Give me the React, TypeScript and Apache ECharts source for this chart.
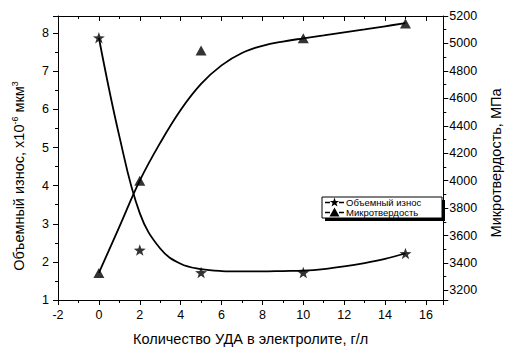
import React, { useEffect, useRef } from "react";
import * as echarts from "echarts";

// measured points
const measuredX = [0, 2, 5, 10, 15];
const wearValues = [7.88, 2.31, 1.72, 1.72, 2.22];
const hardnessValues = [3327, 4000, 4948, 5037, 5145];

// fitted curves at whole-number x
const curveX = [0, 1, 2, 3, 4, 5, 6, 7, 8, 9, 10, 11, 12, 13, 14, 15];
const wearCurveY = [7.88, 5.3, 3.28, 2.35, 1.95, 1.81, 1.76, 1.75, 1.75, 1.76, 1.77, 1.81, 1.88, 1.97, 2.08, 2.22];
const hardCurveY = [3327, 3663, 4000, 4275, 4515, 4705, 4840, 4930, 4982, 5014, 5037, 5058, 5080, 5102, 5125, 5148];

const seriesNames = ["Объемный износ", "Микротвердость"];
const xAxisTitle = "Количество УДА в электролите, г/л";
const leftAxisTitle = "Объемный износ, х10{sup|-6} мкм{sup|3}";
const rightAxisTitle = "Микротвердость, МПа";

const FONT = "Liberation Sans, Arial, sans-serif";
const STAR =
  "path://M0,-10L2.35,-3.24L9.51,-3.09L3.8,1.24L5.88,8.09L0,4L-5.88,8.09L-3.8,1.24L-9.51,-3.09L-2.35,-3.24Z";

function starPoints(cx: number, cy: number, r: number) {
  const pts: number[][] = [];
  for (let i = 0; i < 10; i++) {
    const a = -Math.PI / 2 + (i * Math.PI) / 5;
    const rr = i % 2 === 0 ? r : r * 0.4;
    pts.push([cx + rr * Math.cos(a), cy + rr * Math.sin(a)]);
  }
  return pts;
}

export default function App() {
  const ref = useRef<HTMLDivElement>(null);
  useEffect(() => {
    document.body.style.margin = "0";
    if (!ref.current) return;
    const chart = echarts.init(ref.current, undefined, { renderer: "svg" });
    const black = "#000";
    const axisCommon = {
      axisLine: { show: true, onZero: false, lineStyle: { color: black, width: 1 } },
      splitLine: { show: false },
      minorSplitLine: { show: false },
    };
    const lx = 322, ly = 197, lw = 120, lh = 21;
    const rows = [ly + 5.5, ly + 15.5];
    const legendGraphics: any[] = [
      { type: "rect", shape: { x: lx + 3, y: ly + 3, width: lw, height: lh }, style: { fill: black } },
      { type: "rect", shape: { x: lx, y: ly, width: lw, height: lh }, style: { fill: "#fff", stroke: black, lineWidth: 1 } },
    ];
    seriesNames.forEach((n, i) => {
      const y = rows[i];
      legendGraphics.push(
        { type: "line", shape: { x1: lx + 3, y1: y, x2: lx + 8, y2: y }, style: { stroke: black, lineWidth: 1.5 } },
        { type: "line", shape: { x1: lx + 17, y1: y, x2: lx + 22, y2: y }, style: { stroke: black, lineWidth: 1.5 } },
        i === 0
          ? { type: "polygon", shape: { points: starPoints(lx + 12.5, y, 5) }, style: { fill: black } }
          : { type: "polygon", shape: { points: [[lx + 12.5, y - 5], [lx + 17.5, y + 4], [lx + 7.5, y + 4]] }, style: { fill: black } },
        { type: "text", x: lx + 24, y, style: { text: n, fill: black, font: `9.5px ${FONT}`, verticalAlign: "middle" } }
      );
    });

    const tickFont = 12.5;
    const titleFont = 14.5;

    chart.setOption({
      animation: false,
      grid: { left: 58, right: 59, top: 16, bottom: 48 },
      xAxis: [
        {
          type: "value", position: "bottom", min: -2, max: 16.85, interval: 2,
          ...axisCommon,
          axisTick: { show: true, inside: false, length: 5, lineStyle: { color: black } },
          minorTick: { show: true, splitNumber: 2, length: 3, lineStyle: { color: black } },
          axisLabel: { color: black, fontSize: tickFont, fontFamily: FONT, margin: 8, showMaxLabel: false, formatter: (v: number) => String(v) },
          name: xAxisTitle, nameLocation: "middle", nameGap: 31,
          nameTextStyle: { color: black, fontSize: titleFont, fontFamily: FONT },
        },
        {
          type: "value", position: "top", min: -2, max: 16.85, interval: 2,
          ...axisCommon,
          axisTick: { show: true, inside: true, length: 5, lineStyle: { color: black } },
          minorTick: { show: true, splitNumber: 2, length: 3, lineStyle: { color: black } },
          axisLabel: { show: false },
        },
      ],
      yAxis: [
        {
          type: "value", position: "left", min: 1, max: 8.45, interval: 1,
          ...axisCommon,
          axisTick: { show: true, inside: false, length: 5, lineStyle: { color: black } },
          minorTick: { show: true, splitNumber: 2, length: 3, lineStyle: { color: black } },
          axisLabel: { color: black, fontSize: tickFont, fontFamily: FONT, margin: 9, showMaxLabel: false, formatter: (v: number) => String(v) },
          name: leftAxisTitle, nameLocation: "middle", nameGap: 31, nameRotate: 90,
          nameTextStyle: {
            color: black, fontSize: titleFont, fontFamily: FONT, padding: [0, 36, 0, 0],
            rich: { sup: { fontSize: 9, fontFamily: FONT, color: black, verticalAlign: "top", lineHeight: 17 } },
          },
        },
        {
          type: "value", position: "right", min: 3130, max: 5200, splitNumber: 10,
          ...axisCommon,
          axisTick: { show: true, inside: false, length: 5, lineStyle: { color: black } },
          minorTick: { show: true, splitNumber: 2, length: 3, lineStyle: { color: black } },
          axisLabel: { color: black, fontSize: tickFont, fontFamily: FONT, margin: 6, showMinLabel: false, formatter: (v: number) => String(v) },
          name: rightAxisTitle, nameLocation: "middle", nameGap: 40, nameRotate: 90,
          nameTextStyle: { color: black, fontSize: titleFont, fontFamily: FONT, padding: [0, 10, 0, 0] },
        },
      ],
      series: [
        {
          type: "line", name: seriesNames[0] + " fit", xAxisIndex: 0, yAxisIndex: 0,
          data: curveX.map((x, i) => [x, wearCurveY[i]]),
          smooth: 0.4, showSymbol: false, lineStyle: { color: black, width: 1.8 }, z: 2,
        },
        {
          type: "line", name: seriesNames[1] + " fit", xAxisIndex: 0, yAxisIndex: 1,
          data: curveX.map((x, i) => [x, hardCurveY[i]]),
          smooth: 0.4, showSymbol: false, lineStyle: { color: black, width: 1.8 }, z: 2,
        },
        {
          type: "scatter", name: seriesNames[0], xAxisIndex: 0, yAxisIndex: 0,
          data: measuredX.map((x, i) => [x, wearValues[i]]),
          symbol: STAR, symbolSize: 12, symbolKeepAspect: true,
          itemStyle: { color: black }, z: 3,
        },
        {
          type: "scatter", name: seriesNames[1], xAxisIndex: 0, yAxisIndex: 1,
          data: measuredX.map((x, i) => [x, hardnessValues[i]]),
          symbol: "triangle", symbolSize: [11, 10],
          itemStyle: { color: black }, z: 3,
        },
      ],
      graphic: legendGraphics,
    });
    return () => chart.dispose();
  }, []);
  return <div ref={ref} style={{ width: 511, height: 351 }} />;
}
